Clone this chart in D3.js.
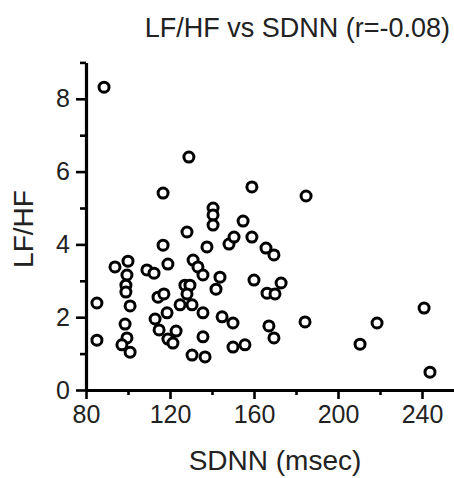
<!DOCTYPE html>
<html>
<head>
<meta charset="utf-8">
<script src="https://cdn.jsdelivr.net/npm/d3@7"></script>
<style>
  body { margin: 0; background: #fff; }
  svg text { font-family: "Liberation Sans", Arial, sans-serif; }
</style>
</head>
<body>
<div id="chart"></div>
<script>
// values
var sdnn = [88.6, 129.0, 116.7, 159.0, 184.8, 140.5, 140.5, 140.5, 128.1, 154.8,
            116.7, 137.6, 148.1, 150.5, 159.0, 165.7, 169.5, 93.8, 100.0, 99.5,
            99.0, 99.0, 101.0, 98.6, 99.5, 97.1, 101.0, 85.2, 85.2, 109.0,
            112.4, 119.0, 131.0, 133.3, 135.7, 143.8, 141.9, 160.0, 166.2, 170.0,
            172.9, 127.1, 129.5, 128.1, 114.3, 117.1, 124.8, 130.5, 135.7, 144.8,
            150.0, 118.6, 112.9, 114.8, 119.0, 122.9, 121.4, 135.7, 130.5, 136.7,
            150.0, 155.7, 167.1, 169.5, 184.3, 210.5, 218.6, 241.0, 243.8];
var lfhf = [8.32, 6.40, 5.41, 5.58, 5.33, 5.00, 4.81, 4.53, 4.34, 4.64,
            3.98, 3.93, 4.01, 4.20, 4.20, 3.90, 3.71, 3.38, 3.54, 3.16,
            2.88, 2.69, 2.31, 1.81, 1.43, 1.24, 1.04, 2.39, 1.37, 3.30,
            3.21, 3.46, 3.57, 3.38, 3.16, 3.10, 2.77, 3.02, 2.66, 2.64,
            2.94, 2.88, 2.88, 2.64, 2.55, 2.64, 2.34, 2.34, 2.12, 2.01,
            1.84, 2.12, 1.95, 1.65, 1.40, 1.62, 1.29, 1.46, 0.96, 0.91,
            1.18, 1.24, 1.76, 1.43, 1.87, 1.26, 1.84, 2.25, 0.49];

var xMajor = [80, 120, 160, 200, 240];
var xMinor = [100, 140, 180, 220];
var yMajor = [0, 2, 4, 6, 8];
var yMinor = [1, 3, 5, 7, 9];

var titleText = 'LF/HF vs SDNN (r=-0.08)';
var xTitle = 'SDNN (msec)';
var yTitle = 'LF/HF';

var w = 454, h = 478;

var svg = d3.select('#chart').append('svg')
    .attr('width', w)
    .attr('height', h);

var x = d3.scaleLinear().domain([80, 255]).range([86, 453.5]);
var y = d3.scaleLinear().domain([0, 9]).range([390, 62.4]);

// minor ticks first, no labels
svg.append('g')
    .attr('transform', 'translate(0,390)')
    .call(d3.axisBottom(x).tickValues(xMinor).tickSize(5).tickSizeOuter(0).tickFormat(''))
    .call(function (g) { g.select('.domain').remove(); });
svg.append('g')
    .attr('transform', 'translate(86,0)')
    .call(d3.axisLeft(y).tickValues(yMinor).tickSize(6).tickSizeOuter(0).tickFormat(''))
    .call(function (g) { g.select('.domain').remove(); });

var xAxis = svg.append('g')
    .attr('transform', 'translate(0,390)')
    .call(d3.axisBottom(x).tickValues(xMajor).tickSize(9).tickSizeOuter(0).tickPadding(6));
var yAxis = svg.append('g')
    .attr('transform', 'translate(86,0)')
    .call(d3.axisLeft(y).tickValues(yMajor).tickSize(10).tickSizeOuter(0).tickPadding(6));

svg.selectAll('.tick line')
    .attr('stroke', '#000')
    .attr('stroke-width', 2.6);
svg.selectAll('.domain')
    .attr('stroke', '#000')
    .attr('stroke-width', 3.2);
svg.selectAll('.tick text')
    .attr('font-size', 25)
    .attr('fill', '#222');

// points
svg.selectAll('circle.pt')
    .data(sdnn)
    .enter()
    .append('circle')
    .attr('class', 'pt')
    .attr('cx', function (d) { return x(d); })
    .attr('cy', function (d, i) { return y(lfhf[i]); })
    .attr('r', 5)
    .attr('fill', '#fff')
    .attr('stroke', '#000')
    .attr('stroke-width', 3);

// titles
svg.append('text')
    .attr('x', 450)
    .attr('y', 37)
    .attr('text-anchor', 'end')
    .attr('font-size', 27)
    .attr('fill', '#222')
    .text(titleText);

svg.append('text')
    .attr('x', 275)
    .attr('y', 470)
    .attr('text-anchor', 'middle')
    .attr('font-size', 28)
    .attr('fill', '#222')
    .text(xTitle);

svg.append('text')
    .attr('transform', 'translate(33,229) rotate(-90)')
    .attr('text-anchor', 'middle')
    .attr('font-size', 28)
    .attr('fill', '#222')
    .text(yTitle);
</script>
</body>
</html>
